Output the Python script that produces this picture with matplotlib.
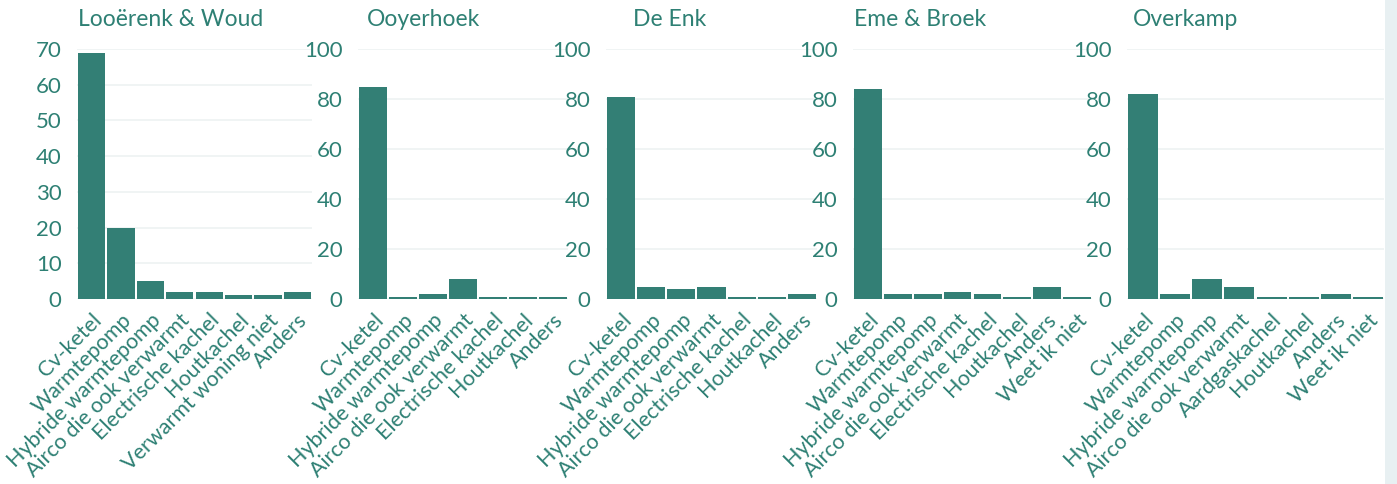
import matplotlib.pyplot as plt
import matplotlib.transforms as mtransforms
from matplotlib.patches import Rectangle

# ------------------------
# Data
# ------------------------
titles = ["Looërenk & Woud", "Ooyerhoek", "De Enk", "Eme & Broek", "Overkamp"]

cats_1 = ["Cv-ketel", "Warmtepomp", "Hybride warmtepomp", "Airco die ook verwarmt",
          "Electrische kachel", "Houtkachel", "Verwarmt woning niet", "Anders"]
vals_1 = [69, 20, 5, 2, 2, 1, 1, 2]

cats_2 = ["Cv-ketel", "Warmtepomp", "Hybride warmtepomp", "Airco die ook verwarmt",
          "Electrische kachel", "Houtkachel", "Anders"]
vals_2 = [85, 1, 2, 8, 1, 1, 1]

cats_3 = ["Cv-ketel", "Warmtepomp", "Hybride warmtepomp", "Airco die ook verwarmt",
          "Electrische kachel", "Houtkachel", "Anders"]
vals_3 = [81, 5, 4, 5, 1, 1, 2]

cats_4 = ["Cv-ketel", "Warmtepomp", "Hybride warmtepomp", "Airco die ook verwarmt",
          "Electrische kachel", "Houtkachel", "Anders", "Weet ik niet"]
vals_4 = [84, 2, 2, 3, 2, 1, 5, 1]

cats_5 = ["Cv-ketel", "Warmtepomp", "Hybride warmtepomp", "Airco die ook verwarmt",
          "Aardgaskachel", "Houtkachel", "Anders", "Weet ik niet"]
vals_5 = [82, 2, 8, 5, 1, 1, 2, 1]

categories = [cats_1, cats_2, cats_3, cats_4, cats_5]
values = [vals_1, vals_2, vals_3, vals_4, vals_5]
ymax = [70, 100, 100, 100, 100]
yticks = [list(range(0, 71, 10)), list(range(0, 101, 20)), list(range(0, 101, 20)),
          list(range(0, 101, 20)), list(range(0, 101, 20))]

# ------------------------
# Layout (pixels)
# ------------------------
W, H = 1397, 484
panels_x = [(77, 312), (358, 568), (606, 817), (853, 1092), (1127, 1384)]
title_x = [78, 367, 633, 854, 1133]
y_top, y_bot = 49, 299

BAR = "#337f75"
TXT = "#2e8074"
GRID = "#edf2f2"

plt.rcParams['font.family'] = ['Lato', 'DejaVu Sans']

fig = plt.figure(figsize=(W / 100, H / 100), dpi=100)
fig.patch.set_facecolor("white")
fig.patches.append(Rectangle((1385 / W, 0), 1 - 1385 / W, 1, transform=fig.transFigure,
                             facecolor="#e8f0f2", edgecolor="none", zorder=0))

shift = mtransforms.ScaledTranslation(9 / 100, 3 / 100, fig.dpi_scale_trans)

for i in range(5):
    x0, x1 = panels_x[i]
    ax = fig.add_axes([x0 / W, 1 - y_bot / H, (x1 - x0) / W, (y_bot - y_top) / H])
    ax.set_facecolor("none")
    n = len(values[i])
    ax.bar(range(n), values[i], width=0.93, color=BAR, zorder=3)
    ax.set_xlim(-0.5, n - 0.5)
    ax.set_ylim(0, ymax[i])
    ax.set_yticks(yticks[i])
    ax.set_xticks(range(n))
    ax.set_xticklabels(categories[i], rotation=45, ha="right", rotation_mode="anchor",
                       fontsize=15.5, color=TXT)
    for lab in ax.get_xticklabels():
        lab.set_transform(lab.get_transform() + shift)
    ax.tick_params(axis="y", length=0, pad=11, labelsize=16, labelcolor=TXT)
    ax.tick_params(axis="x", length=0, pad=8)
    ax.grid(axis="y", color=GRID, linewidth=1.2, zorder=0)
    for s in ax.spines.values():
        s.set_visible(False)
    fig.text(title_x[i] / W, 1 - 20 / H, titles[i], fontsize=16.5, color=TXT,
             ha="left", va="center")

fig.savefig("out.png", dpi=100)
